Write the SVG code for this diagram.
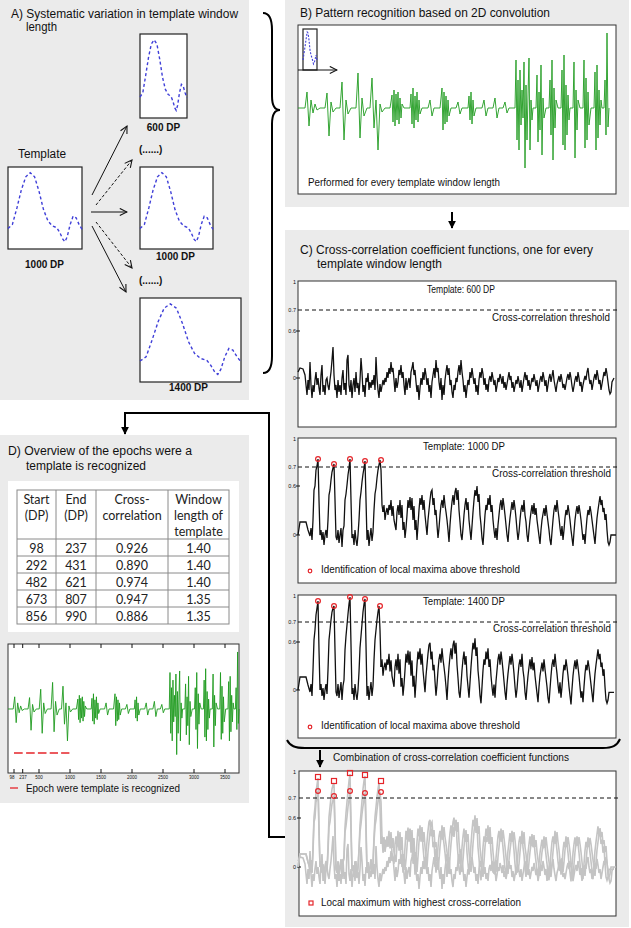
<svg xmlns="http://www.w3.org/2000/svg" xmlns:xlink="http://www.w3.org/1999/xlink" width="631" height="928" viewBox="0 0 631 928">
<style>
.t{font-family:"Liberation Sans",Arial,sans-serif;fill:#111}
.h{font-size:12px}
.s{font-size:10.5px}
.b{font-weight:bold;font-size:10px}
.ax{font-size:5.5px;text-anchor:end}
.tk{font-size:4.5px;text-anchor:middle}
.tb{font-family:Lato,"Liberation Sans",sans-serif;font-size:12.5px;fill:#222;text-anchor:middle}
.pan{fill:#ebebeb}
.box{fill:#fff;stroke:#222;stroke-width:1.2}
.pbox{fill:#fff;stroke:#333;stroke-width:1}
.blue{fill:none;stroke:#3f3fd8;stroke-width:1.4;stroke-dasharray:3 2.5}
.grn{stroke:#1f9b1f;stroke-width:0.9;fill:none}
.blk{stroke:#111;stroke-width:1.3;fill:none}
.gry{stroke:#c4c4c4;stroke-width:1.6;fill:none}
.thr{stroke:#111;stroke-width:1;stroke-dasharray:4 3}
.rc{fill:none;stroke:#e5252a;stroke-width:1.2}
.thin{stroke:#111;stroke-width:1;fill:none}
.thick{stroke:#000;stroke-width:2;fill:none}
.grid{stroke:#8a8a8a;stroke-width:1;fill:none}
</style>
<defs>
<marker id="open" viewBox="0 0 10 10" refX="9" refY="5" markerWidth="9" markerHeight="9" markerUnits="userSpaceOnUse" orient="auto">
<path d="M1,1 L9,5 L1,9" fill="none" stroke="#111" stroke-width="1.2"/>
</marker>
<marker id="fill" viewBox="0 0 10 10" refX="9" refY="5" markerWidth="4" markerHeight="4" orient="auto">
<path d="M0,0 L10,5 L0,10 Z" fill="#000"/>
</marker>
<path id="gr" vector-effect="non-scaling-stroke" d="M298,108 L305,108 L307,92 L309,126 L311,100 L313,113 L315,104 L317,110 L320,108 L325,108 L327,93 L329,136 L331,102 L333,112 L336,108 L340,108 L342,82 L344,140 L346,100 L348,114 L351,108 L356,108 L358,73 L360,138 L362,98 L364,116 L367,108 L370,108 L372,78 L374,128 L376,100 L378,150 L380,104 L382,112 L385,108 L390,108 L392,95 L393,122 L394,90 L395,126 L396,94 L397,120 L398,92 L399,124 L400,98 L401,118 L402,104 L404,108 L410,108 L411,94 L412,124 L413,88 L414,128 L415,96 L416,120 L417,92 L418,122 L419,100 L420,114 L422,108 L428,108 L430,100 L432,116 L434,108 L440,108 L442,88 L443,130 L444,92 L445,124 L446,96 L447,122 L448,100 L449,116 L451,108 L456,108 L458,102 L460,114 L462,108 L468,108 L469,96 L470,120 L471,92 L472,124 L473,100 L474,116 L476,108 L482,108 L484,100 L486,116 L488,108 L493,108 L495,98 L497,118 L499,108 L503,108 L505,102 L507,113 L509,108 L515,108 L516,60 L517,140 L518,80 L519,150 L520,70 L521,125 L522,90 L523,118 L524,62 L525,168 L526,85 L527,140 L528,95 L529,58 L530,150 L531,100 L532,120 L533,108 L536,108 L537,75 L538,142 L539,92 L540,130 L541,65 L542,155 L543,98 L544,118 L546,108 L549,108 L550,80 L551,135 L552,60 L553,160 L554,88 L555,128 L556,100 L558,108 L561,108 L562,70 L563,145 L564,55 L565,150 L566,85 L567,135 L568,95 L569,120 L570,108 L573,108 L574,62 L575,158 L576,90 L577,130 L578,100 L580,108 L583,108 L584,60 L585,148 L586,78 L587,140 L588,92 L589,125 L591,108 L594,108 L595,72 L596,150 L597,65 L598,138 L599,90 L600,125 L601,100 L602,108 L604,108 L605,80 L606,135 L607,33 L608,127 L609,108"/>
<path id="p1" d="M298,372 L300,368 L303,369 L305,375 L306,385 L307,395 L308,380 L309,390 L310,362 L311,385 L312,398 L313,385 L314,392 L315,380 L316,372 L317,385 L318,378 L319,388 L320,395 L321,375 L322,365 L323,392 L324,385 L325,395 L326,380 L327,378 L328,386 L329,390 L330,380 L331,372 L332,360 L333,347 L334,375 L335,390 L336,385 L337,398 L338,380 L339,392 L340,385 L341,395 L342,378 L343,370 L344,390 L345,383 L346,395 L347,360 L348,355 L349,385 L350,392 L351,380 L352,398 L353,385 L354,378 L355,392 L356,372 L357,388 L358,383 L359,395 L360,380 L361,358 L362,372 L363,392 L364,385 L365,397 L366,378 L367,382 L368,373 L369,390 L370,382 L371,388 L372,380 L373,385 L374,375 L375,390 L376,357 L377,378 L378,390 L379,398 L380,384 L381,392 L382,386 L383,380 L384,385 L385,378 L386,382 L387,372 L388,378 L389,368 L390,374 L391,362 L392,372 L393,368 L394,380 L395,392 L396,378 L397,388 L398,382 L399,370 L400,375 L401,365 L402,378 L403,372 L404,385 L405,395 L406,378 L407,390 L408,382 L409,378 L410,388 L411,372 L412,368 L413,362 L414,375 L415,370 L416,382 L417,392 L418,385 L419,400 L420,388 L421,378 L422,385 L423,372 L424,380 L425,368 L426,375 L427,385 L428,378 L429,392 L430,385 L431,398 L432,382 L433,375 L434,368 L435,378 L436,360 L437,372 L438,368 L439,382 L440,390 L441,378 L442,400 L443,385 L444,395 L445,380 L446,372 L447,365 L448,375 L449,368 L450,385 L451,380 L452,392 L453,398 L454,385 L455,390 L456,378 L457,382 L458,372 L459,365 L460,375 L461,360 L462,372 L463,380 L464,392 L465,385 L466,398 L467,388 L468,380 L469,385 L470,372 L471,378 L472,368 L473,376 L474,384 L475,378 L476,392 L477,385 L478,395 L479,380 L480,372 L481,378 L482,368 L483,374 L484,385 L485,378 L486,390 L487,384 L488,392 L489,380 L490,376 L491,382 L492,372 L493,378 L494,385 L495,380 L496,392 L497,386 L498,378 L499,382 L500,374 L501,378 L502,384 L503,376 L504,388 L505,382 L506,390 L507,384 L508,378 L509,372 L510,380 L511,376 L512,388 L513,382 L514,392 L515,386 L516,380 L517,384 L518,376 L519,382 L520,388 L521,380 L522,392 L523,385 L524,378 L525,372 L526,380 L527,375 L528,386 L529,380 L530,390 L531,384 L532,378 L533,382 L534,374 L535,380 L536,386 L537,380 L538,392 L539,386 L540,380 L541,376 L542,382 L543,372 L544,378 L545,386 L546,380 L547,392 L548,385 L549,378 L550,374 L551,382 L552,376 L553,370 L554,380 L555,386 L556,392 L557,384 L558,380 L559,376 L560,382 L561,374 L562,380 L563,388 L564,384 L565,390 L566,384 L567,378 L568,374 L569,380 L570,372 L571,378 L572,386 L573,392 L574,386 L575,380 L576,376 L577,382 L578,372 L579,378 L580,386 L581,382 L582,392 L583,385 L584,380 L585,376 L586,380 L587,372 L588,368 L589,378 L590,384 L591,380 L592,390 L593,384 L594,378 L595,374 L596,380 L597,370 L598,376 L599,384 L600,380 L601,390 L602,384 L603,378 L604,372 L605,376 L606,368 L607,374 L608,382 L609,390 L610,394 L611,392 L612,382 L614,378"/>
<path id="p2" d="M298,535 L300,522 L306,522 L308,530 L310,536 L311,528 L312,540 L313,520 L314,490 L315,486 L316,470 L317,466 L318,459 L319,500 L320,535 L321,530 L322,540 L323,532 L324,545 L325,535 L326,530 L327,538 L328,520 L329,495 L330,490 L331,480 L332,472 L333,468 L334,464 L335,500 L336,537 L337,540 L338,530 L339,543 L340,535 L341,528 L342,547 L343,530 L344,526 L345,500 L346,494 L347,485 L348,475 L349,468 L350,459 L351,500 L352,538 L353,534 L354,545 L355,530 L356,540 L357,546 L358,535 L359,520 L360,500 L361,492 L362,482 L363,474 L364,468 L365,461 L366,500 L367,540 L368,530 L369,546 L370,536 L371,528 L372,541 L373,532 L374,510 L375,494 L376,488 L377,478 L378,470 L379,465 L380,460 L381,470 L382,505 L383,512"/>
<path id="t2" vector-effect="non-scaling-stroke" d="M383,512 L384,505 L385,520 L386,512 L387,508 L388,515 L389,505 L390,510 L391,500 L392,516 L393,506 L394,520 L395,525 L396,530 L397,512 L398,505 L399,515 L400,500 L401,518 L402,505 L403,530 L404,522 L405,538 L406,528 L407,515 L408,500 L409,508 L410,497 L411,510 L412,498 L413,520 L414,506 L415,530 L416,520 L417,540 L418,525 L419,510 L420,498 L421,505 L422,495 L423,510 L424,500 L425,515 L426,525 L427,535 L428,520 L429,510 L430,500 L431,492 L432,490 L433,505 L434,498 L435,515 L436,510 L437,525 L438,538 L439,528 L440,515 L441,505 L442,500 L443,508 L444,495 L445,505 L446,512 L447,520 L448,530 L449,542 L450,525 L451,512 L452,502 L453,495 L454,505 L455,492 L456,488 L457,500 L458,490 L459,510 L460,522 L461,535 L462,540 L463,528 L464,515 L465,505 L466,498 L467,510 L468,502 L469,520 L470,530 L471,540 L472,526 L473,512 L474,500 L475,490 L476,496 L477,486 L478,502 L479,494 L480,515 L481,525 L482,538 L483,545 L484,530 L485,515 L486,505 L487,510 L488,498 L489,505 L490,495 L491,512 L492,505 L493,520 L494,530 L495,538 L496,528 L497,540 L498,525 L499,515 L500,505 L501,500 L502,510 L503,498 L504,506 L505,515 L506,525 L507,535 L508,542 L509,528 L510,518 L511,510 L512,502 L513,510 L514,500 L515,508 L516,518 L517,530 L518,540 L519,532 L520,520 L521,510 L522,505 L523,512 L524,500 L525,515 L526,522 L527,535 L528,542 L529,530 L530,520 L531,512 L532,505 L533,514 L534,503 L535,515 L536,508 L537,520 L538,528 L539,536 L540,544 L541,530 L542,520 L543,514 L544,508 L545,516 L546,505 L547,514 L548,522 L549,530 L550,540 L551,545 L552,532 L553,520 L554,510 L555,505 L556,512 L557,500 L558,510 L559,518 L560,528 L561,536 L562,526 L563,540 L564,530 L565,518 L566,510 L567,515 L568,505 L569,512 L570,520 L571,530 L572,538 L573,546 L574,532 L575,520 L576,512 L577,506 L578,514 L579,505 L580,512 L581,520 L582,530 L583,540 L584,534 L585,544 L586,530 L587,518 L588,510 L589,515 L590,506 L591,512 L592,520 L593,528 L594,536 L595,544 L596,530 L597,518 L598,510 L599,503 L600,496 L601,505 L602,500 L603,512 L604,508 L605,520 L606,514 L607,530 L608,542 L609,545 L610,542 L611,535 L616,535"/>
<path id="p3" d="M298,690 L300,677 L306,677 L308,685 L310,692 L311,684 L312,696 L313,670 L314,640 L315,630 L316,615 L317,608 L318,601 L319,650 L320,690 L321,684 L322,696 L323,688 L324,700 L325,690 L326,684 L327,694 L328,670 L329,640 L330,630 L331,620 L332,612 L333,608 L334,606 L335,650 L336,692 L337,696 L338,684 L339,698 L340,690 L341,682 L342,700 L343,686 L344,680 L345,650 L346,636 L347,625 L348,614 L349,604 L350,597 L351,645 L352,694 L353,688 L354,700 L355,684 L356,694 L357,700 L358,690 L359,672 L360,648 L361,636 L362,624 L363,612 L364,604 L365,599 L366,645 L367,696 L368,686 L369,700 L370,690 L371,682 L372,696 L373,686 L374,660 L375,640 L376,630 L377,620 L378,612 L379,606 L380,630 L381,667"/>
</defs>

<g id="panelA">
<rect class="pan" x="0" y="0" width="249" height="400"/>
<text class="t h" x="11" y="18" textLength="227" lengthAdjust="spacingAndGlyphs">A) Systematic variation in template window</text>
<text class="t h" x="26" y="31" textLength="31" lengthAdjust="spacingAndGlyphs">length</text>
<g id="tpl1000">
<text class="t h" x="18" y="158" textLength="48" lengthAdjust="spacingAndGlyphs">Template</text>
<rect class="box" x="8" y="167" width="74" height="82"/>
<polyline class="blue" points="8,228.5 12.4,224.4 16.9,208 21.3,190 25.8,176.8 30.2,172.7 34.6,176.8 39.1,191.6 43.5,209.6 48,221.1 52.4,226 56.8,227.7 59.8,232.6 62.8,239.2 65,241.6 67.2,236.7 70.2,224.4 73.1,216.2 76.1,217.8 79,224.4 82,229.3"/>
<text class="t b" x="44.5" y="268" text-anchor="middle">1000 DP</text>
</g>
<g id="tpl600">
<rect class="box" x="140" y="34" width="47" height="84"/>
<polyline class="blue" points="140,97 142.8,92.8 145.6,76 148.5,57.5 151.3,44.1 154.1,39.9 156.9,44.1 159.7,59.2 162.6,77.7 165.4,89.4 168.2,94.5 171,96.2 172.9,101.2 174.8,107.9 176.2,110.4 177.6,105.4 179.5,92.8 181.4,84.4 183.2,86.1 185.1,92.8 187,97.8"/>
<text class="t b" x="163.5" y="131" text-anchor="middle">600 DP</text>
</g>
<text class="t b" x="139" y="153">(......)</text>
<g id="tpl1000b">
<rect class="box" x="140" y="167" width="73" height="82"/>
<polyline class="blue" points="140,228.5 144.4,224.4 148.8,208 153.1,190 157.5,176.8 161.9,172.7 166.3,176.8 170.7,191.6 175,209.6 179.4,221.1 183.8,226 188.2,227.7 191.1,232.6 194,239.2 196.2,241.6 198.4,236.7 201.3,224.4 204.2,216.2 207.2,217.8 210.1,224.4 213,229.3"/>
<text class="t b" x="175.5" y="260" text-anchor="middle">1000 DP</text>
</g>
<text class="t b" x="139" y="284">(......)</text>
<g id="tpl1400">
<rect class="box" x="140" y="298" width="101" height="84"/>
<polyline class="blue" points="140,361 146.1,356.8 152.1,340 158.2,321.5 164.2,308.1 170.3,303.9 176.4,308.1 182.4,323.2 188.5,341.7 194.5,353.4 200.6,358.5 206.7,360.2 210.7,365.2 214.7,371.9 217.8,374.4 220.8,369.4 224.8,356.8 228.9,348.4 232.9,350.1 237,356.8 241,361.8"/>
<text class="t b" x="188.5" y="391" text-anchor="middle">1400 DP</text>
</g>
</g>

<g id="panelB">
<rect class="pan" x="285" y="0" width="344" height="207"/>
<text class="t h" x="300" y="17" textLength="250" lengthAdjust="spacingAndGlyphs">B) Pattern recognition based on 2D convolution</text>
<rect class="pbox" x="298" y="25" width="318" height="169"/>
<use xlink:href="#gr" class="grn"/>
<rect class="box" x="303" y="29" width="14" height="41" style="fill:none"/>
<polyline class="blue" style="stroke-dasharray:2 1.5;stroke-width:1.1" points="303,60 304.7,49 306.4,37 307.2,32 308,33 309,40 310,50 311,55 312,58 313.5,64 314.5,62 316,55 317,60"/>
<line class="thin" x1="298" y1="70" x2="337" y2="70" marker-end="url(#open)"/>
<text class="t s" x="308" y="186" textLength="192" lengthAdjust="spacingAndGlyphs">Performed for every template window length</text>
</g>

<g id="panelC">
<rect class="pan" x="285" y="230" width="344" height="697"/>
<text class="t h" x="300" y="254" textLength="293" lengthAdjust="spacingAndGlyphs">C) Cross-correlation coefficient functions, one for every</text>
<text class="t h" x="317" y="268" textLength="125" lengthAdjust="spacingAndGlyphs">template window length</text>

<g id="cc600">
<rect class="pbox" x="298" y="281" width="318" height="146"/>
<text class="t ax" x="296" y="284">1</text>
<text class="t ax" x="296" y="312">0.7</text>
<text class="t ax" x="296" y="333">0.6</text>
<text class="t ax" x="296" y="380">0</text>
<path class="thin" d="M296,331h4M296,378h4"/>
<line class="thr" x1="298" y1="310" x2="618" y2="310"/>
<use xlink:href="#p1" class="blk"/>
<text class="t s" x="427" y="293" textLength="68" lengthAdjust="spacingAndGlyphs">Template: 600 DP</text>
<text class="t s" x="492" y="321" textLength="118" lengthAdjust="spacingAndGlyphs">Cross-correlation threshold</text>
</g>

<g id="cc1000">
<rect class="pbox" x="298" y="438" width="318" height="145"/>
<text class="t ax" x="296" y="441">1</text>
<text class="t ax" x="296" y="469">0.7</text>
<text class="t ax" x="296" y="488">0.6</text>
<text class="t ax" x="296" y="537">0</text>
<path class="thin" d="M296,486h4M296,535h4"/>
<line class="thr" x1="298" y1="467" x2="618" y2="467"/>
<use xlink:href="#p2" class="blk"/>
<use xlink:href="#t2" class="blk"/>
<circle class="rc" cx="318" cy="459" r="2.4"/>
<circle class="rc" cx="334" cy="464" r="2.4"/>
<circle class="rc" cx="350" cy="459" r="2.4"/>
<circle class="rc" cx="365" cy="461" r="2.4"/>
<circle class="rc" cx="381" cy="460" r="2.4"/>
<text class="t s" x="423" y="450" textLength="82" lengthAdjust="spacingAndGlyphs">Template: 1000 DP</text>
<text class="t s" x="492" y="477" textLength="119" lengthAdjust="spacingAndGlyphs">Cross-correlation threshold</text>
<circle class="rc" cx="310" cy="571" r="1.8"/>
<text class="t s" x="321" y="573" textLength="199" lengthAdjust="spacingAndGlyphs">Identification of local maxima above threshold</text>
</g>

<g id="cc1400">
<rect class="pbox" x="298" y="595" width="318" height="143"/>
<text class="t ax" x="296" y="598">1</text>
<text class="t ax" x="296" y="624">0.7</text>
<text class="t ax" x="296" y="644">0.6</text>
<text class="t ax" x="296" y="692">0</text>
<path class="thin" d="M296,642h4M296,690h4"/>
<line class="thr" x1="298" y1="622" x2="618" y2="622"/>
<use xlink:href="#p3" class="blk"/>
<use xlink:href="#t2" class="blk" transform="matrix(1,0,0,1.1,-2,103.8)"/>
<circle class="rc" cx="318" cy="601" r="2.4"/>
<circle class="rc" cx="334" cy="606" r="2.4"/>
<circle class="rc" cx="350" cy="597" r="2.4"/>
<circle class="rc" cx="365" cy="599" r="2.4"/>
<circle class="rc" cx="380" cy="606" r="2.4"/>
<text class="t s" x="423" y="605" textLength="82" lengthAdjust="spacingAndGlyphs">Template: 1400 DP</text>
<text class="t s" x="493" y="632" textLength="118" lengthAdjust="spacingAndGlyphs">Cross-correlation threshold</text>
<circle class="rc" cx="310" cy="727" r="1.8"/>
<text class="t s" x="321" y="729" textLength="199" lengthAdjust="spacingAndGlyphs">Identification of local maxima above threshold</text>
</g>

<text class="t s" x="333" y="761" textLength="236" lengthAdjust="spacingAndGlyphs">Combination of cross-correlation coefficient functions</text>

<g id="ccComb">
<rect class="pbox" x="299" y="771" width="317" height="145"/>
<text class="t ax" x="296" y="774">1</text>
<text class="t ax" x="296" y="800">0.7</text>
<text class="t ax" x="296" y="820">0.6</text>
<text class="t ax" x="296" y="869">0</text>
<path class="thin" d="M297,818h4M297,867h4"/>
<use xlink:href="#p1" class="gry" transform="translate(0,489)"/>
<use xlink:href="#p2" class="gry" transform="translate(0,332)"/>
<use xlink:href="#t2" class="gry" transform="translate(0,332)"/>
<use xlink:href="#p3" class="gry" transform="translate(0,177)"/>
<use xlink:href="#t2" class="gry" transform="matrix(1,0,0,1.1,-2,280.8)"/>
<line class="thr" x1="299" y1="798" x2="618" y2="798"/>
<rect class="rc" x="315.5" y="774.5" width="5" height="5"/>
<rect class="rc" x="331.5" y="778.5" width="5" height="5"/>
<rect class="rc" x="347.5" y="770.5" width="5" height="5"/>
<rect class="rc" x="362.5" y="772.5" width="5" height="5"/>
<rect class="rc" x="378.5" y="778.5" width="5" height="5"/>
<circle class="rc" cx="318" cy="791" r="2.4"/>
<circle class="rc" cx="334" cy="796" r="2.4"/>
<circle class="rc" cx="350" cy="791" r="2.4"/>
<circle class="rc" cx="365" cy="793" r="2.4"/>
<circle class="rc" cx="381" cy="792" r="2.4"/>
<rect class="rc" x="309" y="901" width="4" height="4"/>
<text class="t s" x="321" y="906" textLength="200" lengthAdjust="spacingAndGlyphs">Local maximum with highest cross-correlation</text>
</g>
</g>

<g id="panelD">
<rect class="pan" x="0" y="435" width="249" height="368"/>
<text class="t h" x="8" y="455" textLength="184" lengthAdjust="spacingAndGlyphs">D) Overview of the epochs were a</text>
<text class="t h" x="26" y="469.5" textLength="120" lengthAdjust="spacingAndGlyphs">template is recognized</text>
<g id="table">
<rect x="8" y="481" width="231" height="151" fill="#fff"/>
<rect class="grid" x="17" y="490" width="212" height="134"/>
<path class="grid" d="M56,490V624M96,490V624M168,490V624M17,539H229M17,556H229M17,573H229M17,590H229M17,607H229"/>
<text class="tb" x="36.5" y="504">Start</text>
<text class="tb" x="36.5" y="520">(DP)</text>
<text class="tb" x="76" y="504">End</text>
<text class="tb" x="76" y="520">(DP)</text>
<text class="tb" x="132" y="504">Cross-</text>
<text class="tb" x="132" y="520">correlation</text>
<text class="tb" x="198.5" y="504">Window</text>
<text class="tb" x="198.5" y="520">length of</text>
<text class="tb" x="198.5" y="536">template</text>
<text class="tb" x="36.5" y="553">98</text><text class="tb" x="76" y="553">237</text><text class="tb" x="132" y="553">0.926</text><text class="tb" x="198.5" y="553">1.40</text>
<text class="tb" x="36.5" y="570">292</text><text class="tb" x="76" y="570">431</text><text class="tb" x="132" y="570">0.890</text><text class="tb" x="198.5" y="570">1.40</text>
<text class="tb" x="36.5" y="587">482</text><text class="tb" x="76" y="587">621</text><text class="tb" x="132" y="587">0.974</text><text class="tb" x="198.5" y="587">1.40</text>
<text class="tb" x="36.5" y="604">673</text><text class="tb" x="76" y="604">807</text><text class="tb" x="132" y="604">0.947</text><text class="tb" x="198.5" y="604">1.35</text>
<text class="tb" x="36.5" y="621">856</text><text class="tb" x="76" y="621">990</text><text class="tb" x="132" y="621">0.886</text><text class="tb" x="198.5" y="621">1.35</text>
</g>
<g id="signalD">
<rect class="pbox" x="8" y="644" width="231" height="129"/>
<use xlink:href="#gr" class="grn" transform="matrix(0.743,0,0,0.76,-213.4,626.9)"/>
<path class="thin" d="M14,773v-4M22.7,773v-4M39,773v-4M70,773v-4M101,773v-4M132,773v-4M163,773v-4M194,773v-4M225,773v-4M14,644v4M22.7,644v4M39,644v4M70,644v4M101,644v4M132,644v4M163,644v4M194,644v4M225,644v4"/>
<path d="M14,753H22.7M26.1,753H34.7M37.9,753H46.5M49.7,753H58M61.1,753H69.4" stroke="#e5252a" stroke-width="1.3"/>
<text class="t tk" x="12" y="779">98</text>
<text class="t tk" x="23" y="779">237</text>
<text class="t tk" x="39" y="779">500</text>
<text class="t tk" x="70" y="779">1000</text>
<text class="t tk" x="101" y="779">1500</text>
<text class="t tk" x="132" y="779">2000</text>
<text class="t tk" x="163" y="779">2500</text>
<text class="t tk" x="194" y="779">3000</text>
<text class="t tk" x="225" y="779">3500</text>
<line x1="10" y1="788" x2="18" y2="788" stroke="#e5252a" stroke-width="1.3"/>
<text class="t s" x="26" y="792" textLength="154" lengthAdjust="spacingAndGlyphs">Epoch were template is recognized</text>
</g>
</g>

<g id="connectors">
<line class="thin" x1="92" y1="195" x2="127" y2="126" marker-end="url(#open)"/>
<line class="thin" x1="96" y1="205" x2="132" y2="160" stroke-dasharray="3 2" marker-end="url(#open)"/>
<line class="thin" x1="91" y1="212" x2="127" y2="212" marker-end="url(#open)"/>
<line class="thin" x1="96" y1="222" x2="132" y2="268" stroke-dasharray="3 2" marker-end="url(#open)"/>
<line class="thin" x1="92" y1="226" x2="126" y2="292" marker-end="url(#open)"/>
<path class="thick" d="M263,13 C270,13 272,20 272,30 L272,96 C272,105 275,110 280,110 C275,110 272,115 272,124 L272,356 C272,366 270,373 263,373"/>
<line class="thick" x1="452" y1="212" x2="452" y2="228" marker-end="url(#fill)"/>
<path class="thick" d="M287,740 C290,746 295,748 305,748 L603,748 C612,748 617,746 620,739"/>
<line class="thick" x1="320" y1="750" x2="320" y2="767" marker-end="url(#fill)"/>
<path class="thick" d="M285,837 L269,837 L269,413 L125,413 L125,434" marker-end="url(#fill)"/>
</g>
</svg>
